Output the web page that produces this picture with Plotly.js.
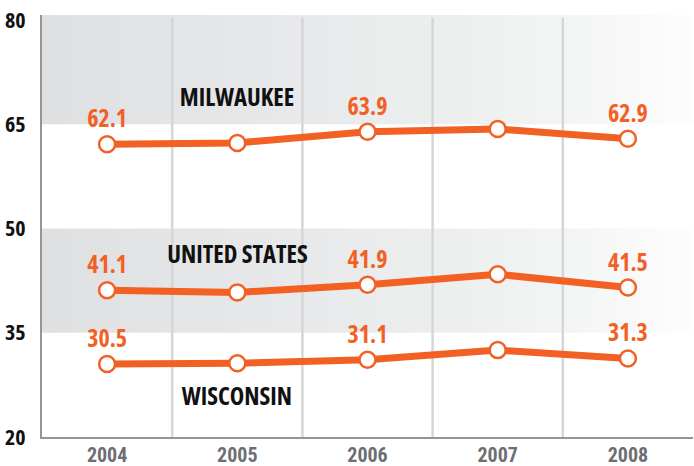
<!DOCTYPE html>
<html>
<head>
<meta charset="utf-8">
<script src="https://cdn.plot.ly/plotly-3.0.1.min.js"></script>
<style>
html,body{margin:0;padding:0;background:#fff;}
#chart{width:694px;height:466px;}
#chart text, #chart tspan{font-stretch:75% !important;}
</style>
</head>
<body>
<div id="chart"></div>
<script>
// ---- data ----
const years = ["2004", "2005", "2006", "2007", "2008"];
const milwaukee = [62.1, 62.3, 63.9, 64.3, 62.9];
const unitedStates = [41.1, 40.8, 41.9, 43.4, 41.5];
const wisconsin = [30.5, 30.6, 31.1, 32.5, 31.3];
const milwaukeeLabels = ["62.1", "", "63.9", "", "62.9"];
const unitedStatesLabels = ["41.1", "", "41.9", "", "41.5"];
const wisconsinLabels = ["30.5", "", "31.1", "", "31.3"];
const seriesNames = ["MILWAUKEE", "UNITED STATES", "WISCONSIN"];
const yTicks = [20, 35, 50, 65, 80];

const ORANGE = "#f26024";
const FONT = "'Open Sans', Roboto, sans-serif";
const TICKFONT = "Roboto, 'Open Sans', sans-serif";
const idx = years.map((_, i) => i);
const yMin = 20, yMax = 80.7;

function band(y0, y1) {
  return {
    type: "scatter", mode: "none", hoverinfo: "skip", showlegend: false,
    x: [-0.5, 4.5, 4.5, -0.5, -0.5], y: [y0, y0, y1, y1, y0],
    fill: "toself",
    fillgradient: {type: "horizontal", start: -0.5, stop: 4.5,
      colorscale: [[0, "#dfe0e2"], [0.4, "#e8e9ea"], [0.63, "#edeeee"], [0.8, "#f3f4f4"], [1, "#fdfdfd"]]}
  };
}

const gx = [], gy = [];
[0.5, 1.5, 2.5, 3.5].forEach(v => { gx.push(v, v, null); gy.push(yMin, 80.3, null); });
const grid = {type: "scatter", mode: "lines", x: gx, y: gy, hoverinfo: "skip", showlegend: false,
  line: {color: "#d5d6d8", width: 2.5}};

function series(vals, labels) {
  return {
    type: "scatter", mode: "lines+markers+text", x: idx, y: vals, text: labels,
    textposition: "top center", showlegend: false,
    textfont: {family: FONT, size: 24, color: ORANGE, weight: "bold"},
    line: {color: ORANGE, width: 7},
    marker: {size: 16, color: "#ffffff", line: {color: ORANGE, width: 2.5}}
  };
}

const data = [band(65, yMax), band(35, 50), grid,
  series(milwaukee, milwaukeeLabels), series(unitedStates, unitedStatesLabels), series(wisconsin, wisconsinLabels)];

const nameY = [69.0, 46.4, 26.0];
const annotations = seriesNames.map((n, i) => ({
  x: 1, y: nameY[i], xref: "x", yref: "y", text: "<b>" + n + "</b>", showarrow: false,
  font: {family: FONT, size: 24.5, color: "#111111"}
}));

const layout = {
  width: 694, height: 466,
  margin: {l: 42, r: 1, t: 15, b: 29, pad: 0},
  paper_bgcolor: "#ffffff", plot_bgcolor: "#ffffff",
  showlegend: false,
  xaxis: {range: [-0.5, 4.5], tickvals: idx, ticktext: years, showgrid: false, zeroline: false,
    showline: true, linecolor: "#939598", linewidth: 2, ticks: "", ticklabelstandoff: -1,
    tickfont: {family: TICKFONT, size: 20, color: "#6d6e71", weight: "bold"}, fixedrange: true},
  yaxis: {range: [yMin, yMax], tickvals: yTicks, ticktext: yTicks.map(String), showgrid: false, zeroline: false,
    showline: true, linecolor: "#939598", linewidth: 2, ticks: "", ticklabelstandoff: 10,
    tickfont: {family: FONT, size: 22, color: "#111111", weight: "bold"}, fixedrange: true},
  annotations: annotations
};

Plotly.newPlot("chart", data, layout, {displayModeBar: false, staticPlot: true});
</script>
</body>
</html>
